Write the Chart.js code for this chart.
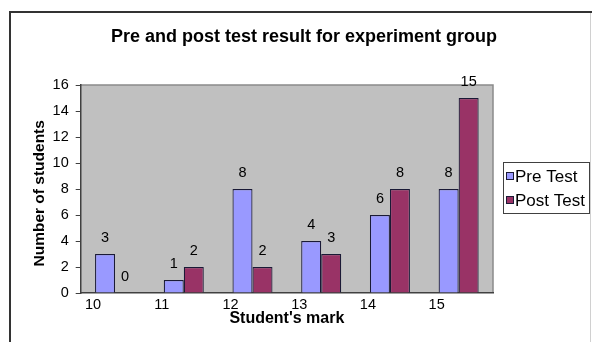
<!DOCTYPE html>
<html>
<head>
<meta charset="utf-8">
<script src="https://cdn.jsdelivr.net/npm/chart.js@4/dist/chart.umd.min.js"></script>
<style>
html,body{margin:0;padding:0;background:#fff;}
#wrap{width:592px;height:342px;position:relative;}
canvas{display:block;}
</style>
</head>
<body>
<div id="wrap"><canvas id="c" width="592" height="342"></canvas></div>
<script>
// ---- data ----
const categories = ['10', '11', '12', '13', '14', '15'];
const preTest = [3, 1, 8, 4, 6, 8];
const postTest = [0, 2, 2, 3, 8, 15];
const seriesNames = ['Pre Test', 'Post Test'];
const yMin = 0;
const yMax = 16;
const yStep = 2;
const chartTitle = 'Pre and post test result for experiment group';
const xTitle = "Student's mark";
const yTitle = 'Number of students';

// ---- styles ----
const FONT = '"Liberation Sans", Arial, sans-serif';
const preColor = '#9999FF';
const postColor = '#993366';
const barBorder = '#1a1a36';

const decor = {
  id: 'decor',
  beforeDraw(chart) {
    const {ctx, chartArea: a} = chart;
    ctx.save();
    ctx.fillStyle = '#ffffff';
    ctx.fillRect(0, 0, chart.width, chart.height);
    ctx.fillStyle = '#c0c0c0';
    ctx.fillRect(a.left, a.top, a.right - a.left, a.bottom - a.top);
    ctx.strokeStyle = '#8a8a8a';
    ctx.lineWidth = 1.5;
    ctx.beginPath();
    ctx.moveTo(a.left, a.top);
    ctx.lineTo(a.right, a.top);
    ctx.lineTo(a.right, a.bottom);
    ctx.stroke();
    ctx.restore();
  },
  afterDraw(chart) {
    const {ctx} = chart;
    ctx.save();
    // outer chart border
    ctx.strokeStyle = '#d0d0d0';
    ctx.lineWidth = 1;
    ctx.beginPath();
    ctx.moveTo(590.5, 12);
    ctx.lineTo(590.5, 342);
    ctx.stroke();
    ctx.strokeStyle = '#333333';
    ctx.lineWidth = 2;
    ctx.beginPath();
    ctx.moveTo(10, 342);
    ctx.lineTo(10, 12);
    ctx.lineTo(592, 12);
    ctx.stroke();
    // title
    ctx.fillStyle = '#000';
    ctx.font = 'bold 18px ' + FONT;
    ctx.textAlign = 'center';
    ctx.textBaseline = 'alphabetic';
    ctx.fillText(chartTitle, 304, 41.5);
    // data labels
    ctx.textBaseline = 'middle';
    ctx.font = '14.5px ' + FONT;
    chart.data.datasets.forEach((ds, i) => {
      const meta = chart.getDatasetMeta(i);
      meta.data.forEach((bar, j) => {
        ctx.fillText(String(ds.data[j]), bar.x, bar.y - 16);
      });
    });
    // legend
    ctx.strokeStyle = '#404040';
    ctx.lineWidth = 1;
    ctx.strokeRect(503.5, 162.5, 86, 51);
    ctx.font = '17px ' + FONT;
    ctx.textAlign = 'left';
    const rows = [176, 200];
    chart.data.datasets.forEach((ds, i) => {
      const y = rows[i];
      ctx.fillStyle = ds.backgroundColor;
      ctx.fillRect(506.5, y - 3.5, 7, 7);
      ctx.strokeStyle = barBorder;
      ctx.strokeRect(506.5, y - 3.5, 7, 7);
      ctx.fillStyle = '#000';
      ctx.fillText(ds.label, 515, y + 1);
    });
    ctx.restore();
  }
};

new Chart(document.getElementById('c'), {
  type: 'bar',
  data: {
    labels: categories,
    datasets: [
      {label: seriesNames[0], data: preTest, backgroundColor: preColor, borderColor: barBorder, borderWidth: 1.2},
      {label: seriesNames[1], data: postTest, backgroundColor: postColor, borderColor: barBorder, borderWidth: 1.2}
    ]
  },
  options: {
    responsive: false,
    animation: false,
    devicePixelRatio: 1,
    layout: {padding: {left: 10, top: 85, right: 99, bottom: 0}},
    datasets: {bar: {categoryPercentage: 0.5825, barPercentage: 1}},
    plugins: {
      legend: {display: false},
      title: {display: false},
      tooltip: {enabled: false}
    },
    scales: {
      x: {
        offset: true,
        grid: {display: false, drawTicks: false},
        border: {display: true, color: '#404040', width: 1.5},
        ticks: {color: '#000', font: {family: FONT, size: 14.5}, padding: 3, labelOffset: -22, maxRotation: 0, autoSkip: false},
        title: {display: true, text: xTitle, color: '#000', font: {family: FONT, size: 16, weight: 'bold'}, padding: {top: 0, bottom: 13.4}},
        afterFit(s) { s.height = 49; }
      },
      y: {
        min: yMin, max: yMax,
        grid: {display: true, drawOnChartArea: false, drawTicks: true, tickLength: 5, color: '#404040'},
        border: {display: true, color: '#404040', width: 1.5},
        ticks: {stepSize: yStep, color: '#000', font: {family: FONT, size: 14.5}, padding: 7},
        title: {display: true, text: yTitle + '\u00a0\u00a0', color: '#000', font: {family: FONT, size: 15.5, weight: 'bold'}, padding: {top: 20, bottom: 0}},
        afterFit(s) { s.width = 70.7; }
      }
    }
  },
  plugins: [decor]
});
</script>
</body>
</html>
